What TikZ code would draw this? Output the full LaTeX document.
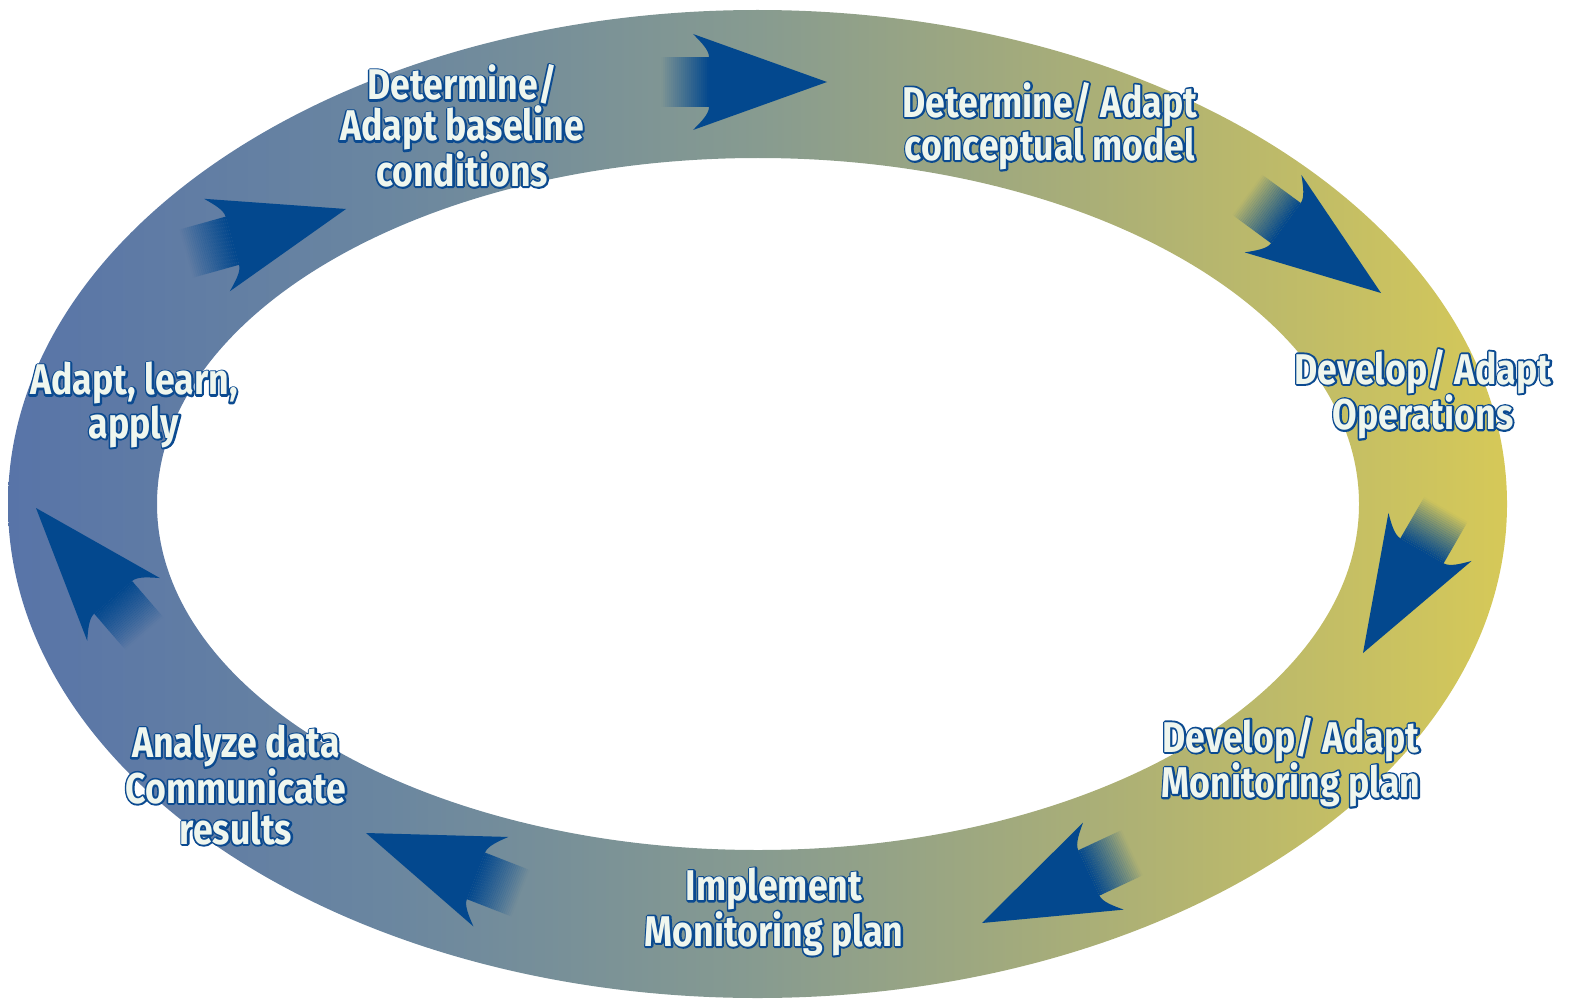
\documentclass[tikz,border=0pt]{standalone}
\usepackage{fontspec}
\newfontfamily\lblfont[FakeStretch=0.83]{Fira Sans}
\definecolor{arrowblue}{HTML}{03488E}
\definecolor{txtfill}{HTML}{EFF6EE}
\definecolor{txtline}{HTML}{0B4A90}
\definecolor{rc0}{HTML}{5874A8}
\definecolor{rc1}{HTML}{6A86A0}
\definecolor{rc2}{HTML}{879B90}
\definecolor{rc3}{HTML}{AEB174}
\definecolor{rc4}{HTML}{D6C958}
\pgfdeclarehorizontalshading{ringshade}{100bp}{color(0bp)=(rc0); color(25bp)=(rc0); color(37.5bp)=(rc1); color(50bp)=(rc2); color(62.5bp)=(rc3); color(75bp)=(rc4); color(100bp)=(rc4)}
\newcommand\olt[1]{\leavevmode\rlap{\textcolor{txtline}{\special{pdf:literal 1 Tr 3.6 w 1 j}#1\special{pdf:literal 0 Tr}}}#1}
\newcommand\cycarrow[4]{%
  \begin{scope}[shift={(#2,#3)}, rotate=#4]
    \coordinate (#1) at (0,0);
    \foreach \i [evaluate=\i as \op using (\i+0.5)/24] in {0,...,23} {
      \fill[arrowblue, fill opacity=\op] ({-166+2*\i},-25) rectangle ({-166+2*\i+2.1},25);
    }
    \fill[arrowblue] (0,0) -- (-134,-48) .. controls (-126,-40) and (-118,-32) .. (-118,-25)
      -- (-118,25) .. controls (-118,32) and (-126,40) .. (-134,48) -- cycle;
  \end{scope}}
\tikzset{lbl/.style={text=txtfill, font=\lblfont\bfseries\fontsize{43}{41}\selectfont, align=center, inner sep=0pt}}
\begin{document}
\begin{tikzpicture}[x=1pt,y=-1pt]
\useasboundingbox (0,0) rectangle (1573,1003);
\shade[shading=ringshade, even odd rule] (757.5,504) ellipse [x radius=749.5, y radius=494]
  (758,504) ellipse [x radius=601, y radius=346];
\cycarrow{a1}{346}{209}{15.6}
\cycarrow{a2}{827}{82}{0}
\cycarrow{a3}{1381}{293}{-36.3}
\cycarrow{a4}{1363}{653}{-120}
\cycarrow{a5}{982}{923}{-154.9}
\cycarrow{a6}{366}{833}{-201.3}
\cycarrow{a7}{36}{508}{130.8}
\node[lbl] (l1) at (462,126) {\olt{Determine/}\\\olt{Adapt baseline}\\\olt{conditions}};
\node[lbl] (l2) at (1050,126) {\olt{Determine/ Adapt}\\\olt{conceptual model}};
\node[lbl] (l3) at (1423,394) {\olt{Develop/ Adapt}\\\olt{Operations}};
\node[lbl] (l4) at (1291,762) {\olt{Develop/ Adapt}\\\olt{Monitoring plan}};
\node[lbl] (l5) at (774,912) {\olt{Implement}\\\olt{Monitoring plan}};
\node[lbl] (l6) at (236,785) {\olt{Analyze data}\\\olt{Communicate}\\\olt{results}};
\node[lbl] (l7) at (134,405) {\olt{Adapt, learn,}\\\olt{apply}};
\end{tikzpicture}
\end{document}
